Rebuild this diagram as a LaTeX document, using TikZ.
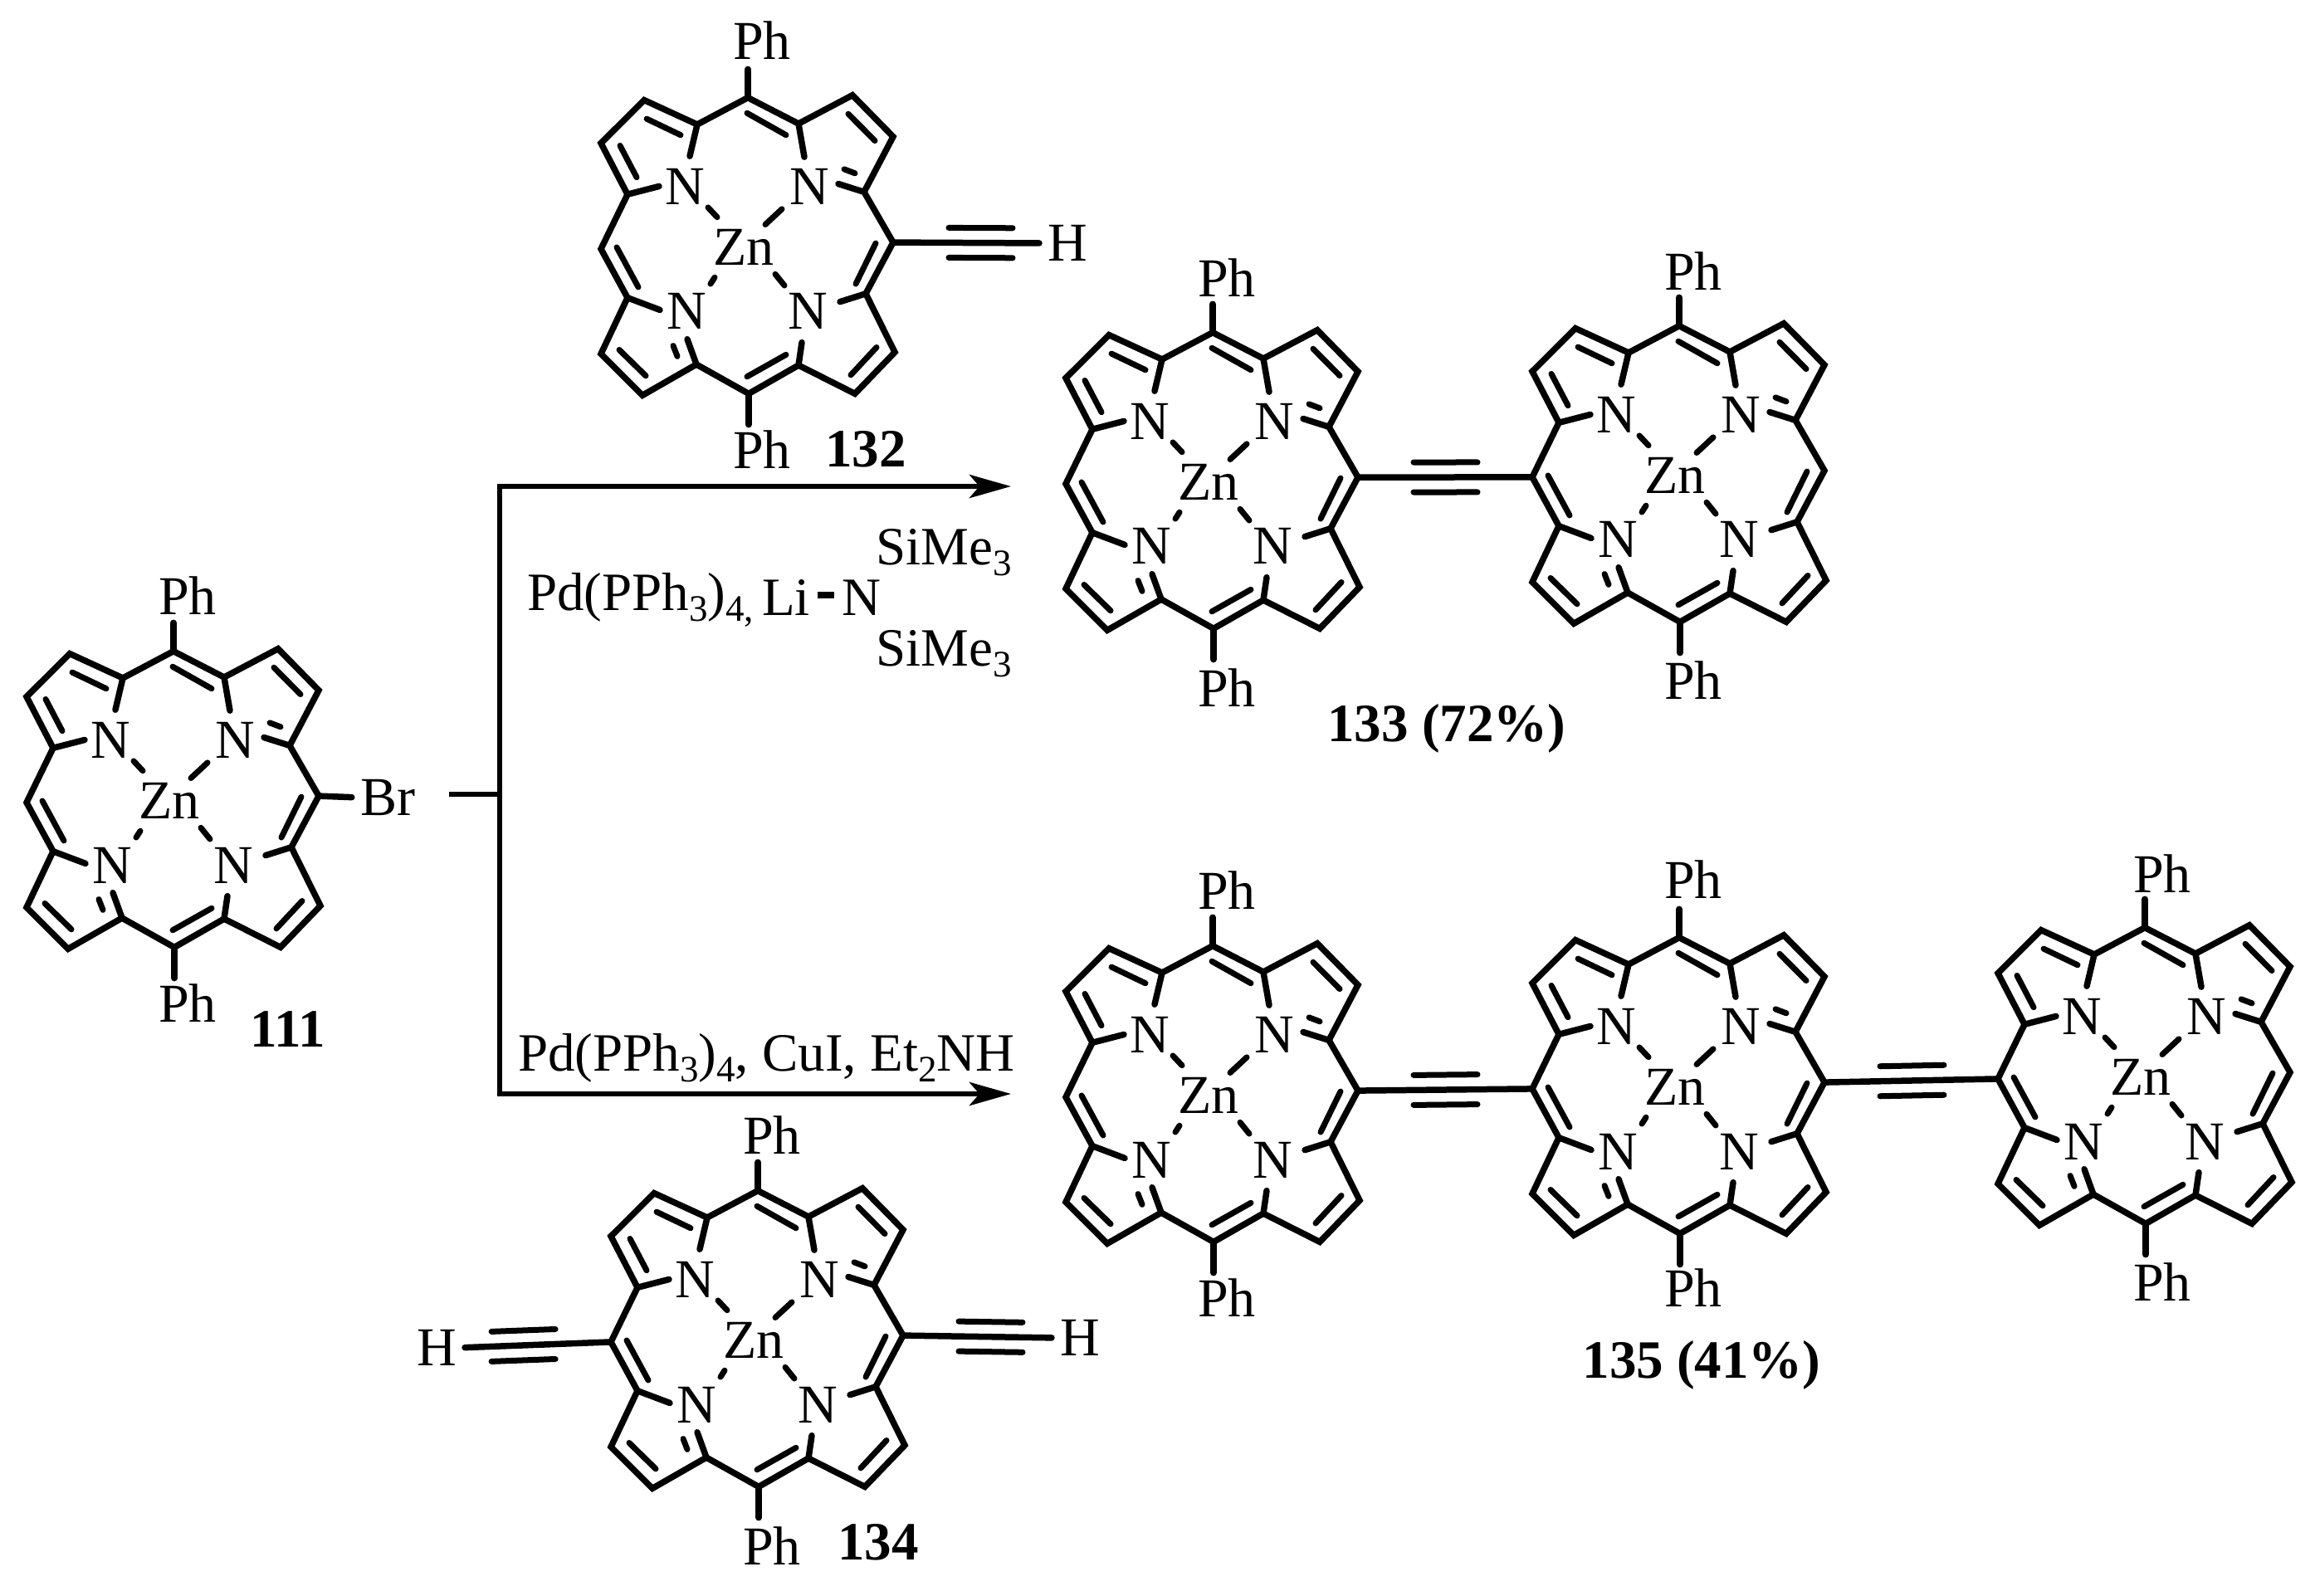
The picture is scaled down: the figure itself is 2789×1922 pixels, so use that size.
\documentclass[tikz,border=0pt]{standalone}
\usepackage{fontspec}
\setmainfont{Liberation Serif}
\usetikzlibrary{arrows.meta,calc}
\newcommand{\sbs}[1]{\raisebox{-13pt}{\fontsize{45}{45}\selectfont #1}}
\tikzset{
  bond/.style={line width=7.5pt,line cap=round,line join=miter},
  dbl/.style={line width=7pt,line cap=round},
  atom/.style={inner sep=0pt,font=\fontsize{66}{70}\selectfont},
  lab/.style={inner sep=0pt,font=\fontsize{65}{70}\selectfont\bfseries},
  base/.style={inner sep=0pt,anchor=base west,font=\fontsize{65}{70}\selectfont},
  rxn/.style={line width=6.5pt},
  rxnarrow/.style={line width=6.5pt,-{Stealth[length=50pt,width=28pt,inset=12pt]}}
}
% #1 name, #2 centre x, #3 centre y
\newcommand{\porph}[3]{%
\begin{scope}[shift={(#2,#3)},y=0.98pt]
 \coordinate (#1-r) at (176,4);
 \coordinate (#1-l) at (-176,-4);
 \coordinate (#1-t) at (1,182);
 \coordinate (#1-b) at (2,-182);
 \coordinate (#1-tt) at (1,217);
 \coordinate (#1-bb) at (2,-220);
 \draw[bond] (-69,110)--(-60,149)--(1,182)--(62,150)--(69,109);
 \draw[bond] (-60,149)--(-124,179)--(-176,126)--(-144,63)--(-106,73);
 \draw[bond] (-144,63)--(-176,-4)--(-144,-64)--(-105,-79);
 \draw[bond] (-144,-64)--(-176,-133)--(-126,-184)--(-61,-146)--(-72,-115);
 \draw[bond] (-61,-146)--(2,-182)--(62,-147)--(66,-119);
 \draw[bond] (62,-147)--(130,-182)--(178,-131)--(143,-59)--(112,-69);
 \draw[bond] (143,-59)--(176,4)--(141,66)--(110,76);
 \draw[bond] (141,66)--(176,134)--(127,185)--(62,150);
 \draw[bond] (#1-t)--(#1-tt);
 \draw[bond] (#1-b)--(#1-bb);
 \draw[dbl] (-121,156)--(-80,136);
 \draw[dbl] (-153,123)--(-133,84);
 \draw[dbl] (0,163)--(47,136);
 \draw[dbl] (122,162)--(154,129);
 \draw[dbl] (-157,-2)--(-131,-51);
 \draw[dbl] (155,3)--(131,-47);
 \draw[dbl] (-154,-128)--(-122,-160);
 \draw[dbl] (0,-161)--(47,-134);
 \draw[dbl] (156,-125)--(125,-159);
 \draw[dbl] (117,94)--(130,89);
 \draw[dbl] (-89,-123)--(-84,-136);
 \draw[dbl] (-47,47)--(-36,35);
 \draw[dbl] (42,45)--(22,26);
 \draw[dbl] (-39,-39)--(-44,-47);
 \draw[dbl] (34,-35)--(45,-49);
 \node[atom] (#1-n1) at (-75,73) {N};
 \node[atom] (#1-n2) at (75,73) {N};
 \node[atom] (#1-n3) at (-73,-81) {N};
 \node[atom] (#1-n4) at (73,-81) {N};
 \node[atom] (#1-zn) at (-4,-2) {Zn};
\end{scope}}
% #1 meso carbon, #2 far end, #3 extra bond style
\newcommand{\alkyne}[3]{%
 \draw[bond,#3] (#1)--(#2);
 \draw[dbl] ($(#1)!67pt!(#2)+(0,-18)$)--($(#1)!144pt!(#2)+(0,-18)$);
 \draw[dbl] ($(#1)!67pt!(#2)+(0,18)$)--($(#1)!144pt!(#2)+(0,18)$);}
\begin{document}
\begin{tikzpicture}[x=1pt,y=-1pt]
\useasboundingbox (0,0) rectangle (2789,1922);
\porph{a}{208}{963}
\porph{b}{900}{296}
\porph{c}{1460}{579}
\porph{d}{2022}{571}
\porph{e}{1460}{1318}
\porph{f}{2022}{1308}
\porph{g}{2583}{1296}
\porph{h}{912}{1613}
% Ph labels
\foreach \n/\px/\ya/\yb in {a/226/718/1209,b/918/49/542,c/1478/335/829,d/2040/327/820,e/1478/1073/1564,f/2040/1060/1552,g/2605/1053/1545,h/930/1368/1863}{
  \node[atom] (\n-pt) at (\px,\ya) {Ph};
  \node[atom] (\n-pb) at (\px,\yb) {Ph};
}
\node[atom] (br) at (467,961) {Br};
\draw[bond,shorten >=10pt] (a-r)--(br.west);
\coordinate (jn) at (602,957);
\coordinate (stub) at (541,957);
\draw[rxn] (stub)--(jn);
\coordinate (up) at (602,586);
\coordinate (dn) at (602,1318);
\coordinate (upe) at (1218,586);
\coordinate (dne) at (1218,1318);
\draw[rxn,line cap=rect] (up)--(dn);
\draw[rxnarrow] (up)--(upe);
\draw[rxnarrow] (dn)--(dne);
\node[lab] (l111) at (347,1240) {111};
\node[lab] (l132) at (1043,541) {132};
\node[lab] (l133) at (1743,878) {133 (72\%)};
\node[lab] (l134) at (1058,1858) {134};
\node[lab] (l135) at (2050,1645) {135 (41\%)};
\node[base] (t1) at (635,735) {Pd(PPh\sbs{3})\sbs{4,}};
\node[base] (li) at (918,741) {Li};
\node[base] (t2) at (1014,741) {N};
\coordinate (t3) at (985,717);
\coordinate (t3b) at (1005,717);
\draw[line width=8pt] (t3)--(t3b);
\node[base] (s1) at (1055,680) {SiMe\sbs{3}};
\node[base] (s2) at (1055,802) {SiMe\sbs{3}};
\node[base] (t4) at (624,1290) {Pd(PPh\sbs{3})\sbs{4}, CuI, Et\sbs{2}NH};
% alkynes
\node[atom] (hb) at (1286,293) {H};
\alkyne{b-r}{hb.west}{shorten >=10pt}
\alkyne{c-r}{d-l}{}
\alkyne{e-r}{f-l}{}
\alkyne{f-r}{g-l}{}
\node[atom] (hl) at (526,1624) {H};
\node[atom] (hr) at (1301,1612) {H};
\alkyne{h-l}{hl.east}{shorten >=10pt}
\alkyne{h-r}{hr.west}{shorten >=10pt}
\end{tikzpicture}
\end{document}
